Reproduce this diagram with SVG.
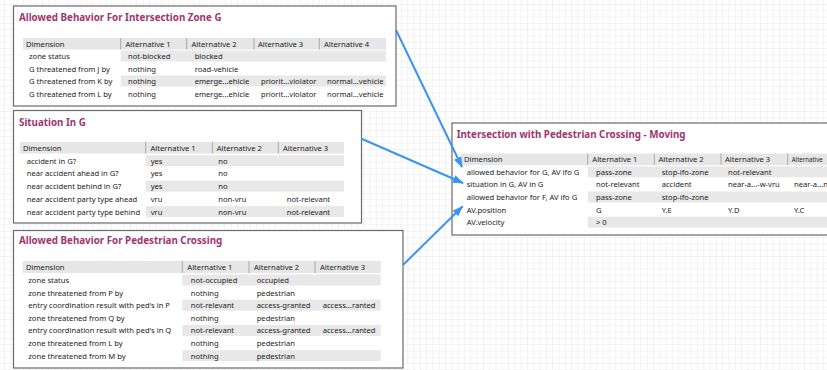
<svg xmlns="http://www.w3.org/2000/svg" width="827" height="370" viewBox="0 0 827 370">
  <style>
    .box { fill: #ffffff; stroke: #6a6a6a; stroke-width: 1.2; }
    .hdr { fill: #e6e6e6; }
    .sep { stroke: #a8a8a8; stroke-width: 1; }
    .alt { fill: #e8e8e8; }
    .title { font-family: "Noto Sans", "Open Sans", sans-serif; font-weight: bold; font-size: 9.8px; fill: #a0356f; }
    .t { font-family: "Noto Sans", "Open Sans", sans-serif; font-size: 7.6px; fill: #222222; }
    .link { fill: none; stroke: #3a94f2; stroke-width: 2; marker-end: url(#head); }
  </style>
  <defs>
    <pattern id="grid" patternUnits="userSpaceOnUse" x="4.1" y="4" width="6.3" height="6.3">
      <path d="M6.3 0 L0 0 L0 6.3" fill="none" stroke="#e2e2e2" stroke-width="0.8"/>
    </pattern>
    <marker id="head" markerUnits="userSpaceOnUse" markerWidth="12" markerHeight="9" refX="10" refY="4" orient="auto">
      <path d="M0 0 L11 4 L0 8 Z" fill="#3a94f2"/>
    </marker>
  </defs>

  <!-- canvas grid -->
  <rect x="0" y="0" width="827" height="370" fill="#ffffff"/>
  <rect x="0" y="0" width="827" height="370" fill="url(#grid)"/>

  <!-- Allowed Behavior For Intersection Zone G -->
  <g id="zone-g">
    <rect class="box" x="13.5" y="6" width="382.5" height="100"/>
    <text class="title" x="19" y="21">Allowed Behavior For Intersection Zone G</text>
    <rect class="hdr" x="23" y="38" width="363" height="11.5"/>
    <line class="sep" x1="120.7" y1="38" x2="120.7" y2="49.5"/>
    <line class="sep" x1="186.7" y1="38" x2="186.7" y2="49.5"/>
    <line class="sep" x1="254" y1="38" x2="254" y2="49.5"/>
    <line class="sep" x1="319.3" y1="38" x2="319.3" y2="49.5"/>
    <text class="t" x="26" y="46.5">Dimension</text>
    <text class="t" x="125.5" y="46.5">Alternative 1</text>
    <text class="t" x="191.5" y="46.5">Alternative 2</text>
    <text class="t" x="258" y="46.5">Alternative 3</text>
    <text class="t" x="324" y="46.5">Alternative 4</text>
    <rect class="alt" x="120.7" y="50.5" width="265.3" height="11"/>
    <rect class="alt" x="120.7" y="75.5" width="265.3" height="11"/>
    <text class="t" x="29" y="59">zone status</text>
    <text class="t" x="128" y="59">not-blocked</text>
    <text class="t" x="194.7" y="59">blocked</text>
    <text class="t" x="29" y="71.5">G threatened from J by</text>
    <text class="t" x="128" y="71.5">nothing</text>
    <text class="t" x="194.7" y="71.5">road-vehicle</text>
    <text class="t" x="29" y="84">G threatened from K by</text>
    <text class="t" x="128" y="84">nothing</text>
    <text class="t" x="194.7" y="84">emerge...ehicle</text>
    <text class="t" x="261" y="84">priorit...violator</text>
    <text class="t" x="327" y="84">normal...vehicle</text>
    <text class="t" x="29" y="96.5">G threatened from L by</text>
    <text class="t" x="128" y="96.5">nothing</text>
    <text class="t" x="194.7" y="96.5">emerge...ehicle</text>
    <text class="t" x="261" y="96.5">priorit...violator</text>
    <text class="t" x="327" y="96.5">normal...vehicle</text>
  </g>

  <!-- Situation In G -->
  <g id="situation-g">
    <rect class="box" x="13.5" y="110.5" width="348" height="112.5"/>
    <text class="title" x="19" y="126">Situation In G</text>
    <rect class="hdr" x="20" y="142" width="324" height="11.5"/>
    <line class="sep" x1="145.7" y1="142" x2="145.7" y2="153.5"/>
    <line class="sep" x1="212.3" y1="142" x2="212.3" y2="153.5"/>
    <line class="sep" x1="278.3" y1="142" x2="278.3" y2="153.5"/>
    <text class="t" x="23" y="150.5">Dimension</text>
    <text class="t" x="150.5" y="150.5">Alternative 1</text>
    <text class="t" x="216.7" y="150.5">Alternative 2</text>
    <text class="t" x="283" y="150.5">Alternative 3</text>
    <rect class="alt" x="145.7" y="155.2" width="198.3" height="11"/>
    <rect class="alt" x="145.7" y="180.7" width="198.3" height="11"/>
    <rect class="alt" x="145.7" y="206.2" width="198.3" height="11"/>
    <text class="t" x="26.7" y="163.7">accident in G?</text>
    <text class="t" x="150.7" y="163.7">yes</text>
    <text class="t" x="218.3" y="163.7">no</text>
    <text class="t" x="26.7" y="176.4">near accident ahead in G?</text>
    <text class="t" x="150.7" y="176.4">yes</text>
    <text class="t" x="218.3" y="176.4">no</text>
    <text class="t" x="26.7" y="189.2">near accident behind in G?</text>
    <text class="t" x="150.7" y="189.2">yes</text>
    <text class="t" x="218.3" y="189.2">no</text>
    <text class="t" x="26.7" y="202">near accident party type ahead</text>
    <text class="t" x="150.7" y="202">vru</text>
    <text class="t" x="218.3" y="202">non-vru</text>
    <text class="t" x="286.7" y="202">not-relevant</text>
    <text class="t" x="26.7" y="214.7">near accident party type behind</text>
    <text class="t" x="150.7" y="214.7">vru</text>
    <text class="t" x="218.3" y="214.7">non-vru</text>
    <text class="t" x="286.7" y="214.7">not-relevant</text>
  </g>

  <!-- Allowed Behavior For Pedestrian Crossing -->
  <g id="ped-crossing">
    <rect class="box" x="13.5" y="230.5" width="389.5" height="137.5"/>
    <text class="title" x="19" y="244">Allowed Behavior For Pedestrian Crossing</text>
    <rect class="hdr" x="22.7" y="261" width="358" height="12"/>
    <line class="sep" x1="182.3" y1="261" x2="182.3" y2="273"/>
    <line class="sep" x1="249" y1="261" x2="249" y2="273"/>
    <line class="sep" x1="315" y1="261" x2="315" y2="273"/>
    <text class="t" x="26" y="270">Dimension</text>
    <text class="t" x="187.3" y="270">Alternative 1</text>
    <text class="t" x="254" y="270">Alternative 2</text>
    <text class="t" x="320" y="270">Alternative 3</text>
    <rect class="alt" x="182.3" y="274.5" width="198.4" height="11"/>
    <rect class="alt" x="182.3" y="299.7" width="198.4" height="11"/>
    <rect class="alt" x="182.3" y="324.9" width="198.4" height="11"/>
    <rect class="alt" x="182.3" y="350.1" width="198.4" height="11"/>
    <text class="t" x="28.3" y="283">zone status</text>
    <text class="t" x="190.7" y="283">not-occupied</text>
    <text class="t" x="256.7" y="283">occupied</text>
    <text class="t" x="28.3" y="295.6">zone threatened from P by</text>
    <text class="t" x="190.7" y="295.6">nothing</text>
    <text class="t" x="256.7" y="295.6">pedestrian</text>
    <text class="t" x="28.3" y="308.2">entry coordination result with ped's in P</text>
    <text class="t" x="190.7" y="308.2">not-relevant</text>
    <text class="t" x="256.7" y="308.2">access-granted</text>
    <text class="t" x="322.7" y="308.2">access...ranted</text>
    <text class="t" x="28.3" y="320.8">zone threatened from Q by</text>
    <text class="t" x="190.7" y="320.8">nothing</text>
    <text class="t" x="256.7" y="320.8">pedestrian</text>
    <text class="t" x="28.3" y="333.4">entry coordination result with ped's in Q</text>
    <text class="t" x="190.7" y="333.4">not-relevant</text>
    <text class="t" x="256.7" y="333.4">access-granted</text>
    <text class="t" x="322.7" y="333.4">access...ranted</text>
    <text class="t" x="28.3" y="346">zone threatened from L by</text>
    <text class="t" x="190.7" y="346">nothing</text>
    <text class="t" x="256.7" y="346">pedestrian</text>
    <text class="t" x="28.3" y="358.6">zone threatened from M by</text>
    <text class="t" x="190.7" y="358.6">nothing</text>
    <text class="t" x="256.7" y="358.6">pedestrian</text>
  </g>

  <!-- Intersection with Pedestrian Crossing - Moving -->
  <g id="intersection-moving">
    <rect class="box" x="452" y="123" width="420" height="112"/>
    <text class="title" x="456.7" y="137.5">Intersection with Pedestrian Crossing - Moving</text>
    <rect class="hdr" x="460.7" y="153.5" width="380" height="11.5"/>
    <line class="sep" x1="587.7" y1="153.5" x2="587.7" y2="165"/>
    <line class="sep" x1="654.3" y1="153.5" x2="654.3" y2="165"/>
    <line class="sep" x1="721" y1="153.5" x2="721" y2="165"/>
    <line class="sep" x1="787.7" y1="153.5" x2="787.7" y2="165"/>
    <text class="t" x="464" y="162">Dimension</text>
    <text class="t" x="592.3" y="162">Alternative 1</text>
    <text class="t" x="658.5" y="162">Alternative 2</text>
    <text class="t" x="725" y="162">Alternative 3</text>
    <text class="t" x="791.7" y="162" textLength="31" lengthAdjust="spacingAndGlyphs">Alternative</text>
    <rect class="alt" x="587.7" y="166.3" width="250" height="11"/>
    <rect class="alt" x="587.7" y="191.5" width="250" height="11"/>
    <rect class="alt" x="587.7" y="216.7" width="250" height="11"/>
    <text class="t" x="466.7" y="174.7">allowed behavior for G, AV ifo G</text>
    <text class="t" x="596" y="174.7">pass-zone</text>
    <text class="t" x="661.7" y="174.7">stop-ifo-zone</text>
    <text class="t" x="728" y="174.7">not-relevant</text>
    <text class="t" x="466.7" y="187.3">situation in G, AV in G</text>
    <text class="t" x="596" y="187.3">not-relevant</text>
    <text class="t" x="661.7" y="187.3">accident</text>
    <text class="t" x="728" y="187.3">near-a...-w-vru</text>
    <text class="t" x="794" y="187.3">near-a...n</text>
    <text class="t" x="466.7" y="199.9">allowed behavior for F, AV ifo G</text>
    <text class="t" x="596" y="199.9">pass-zone</text>
    <text class="t" x="661.7" y="199.9">stop-ifo-zone</text>
    <text class="t" x="466.7" y="212.5">AV.position</text>
    <text class="t" x="596" y="212.5">G</text>
    <text class="t" x="661.7" y="212.5">Y.E</text>
    <text class="t" x="728" y="212.5">Y.D</text>
    <text class="t" x="794" y="212.5">Y.C</text>
    <text class="t" x="466.7" y="225.1">AV.velocity</text>
    <text class="t" x="596" y="225.1">&gt; 0</text>
  </g>

  <!-- connectors -->
  <g id="connectors">
    <line class="link" x1="396" y1="30" x2="462" y2="167"/>
    <line class="link" x1="361" y1="138.5" x2="463" y2="183"/>
    <line class="link" x1="403" y1="265" x2="462.5" y2="206.5"/>
  </g>
</svg>
